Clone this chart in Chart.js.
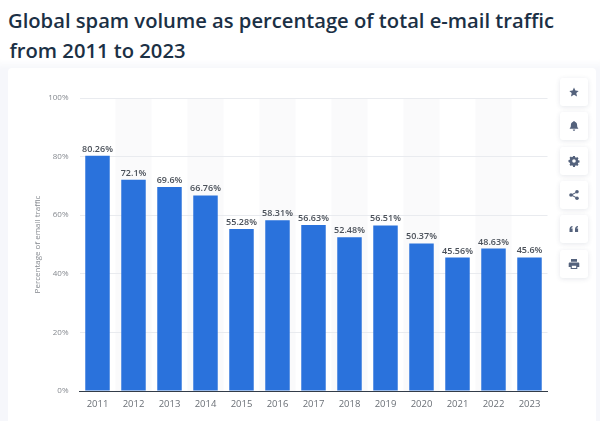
<!DOCTYPE html>
<html>
<head>
<meta charset="utf-8">
<script src="https://cdn.jsdelivr.net/npm/chart.js@4"></script>
<style>
  html, body { margin: 0; padding: 0; background: #fff; overflow: hidden; }
  #page { position: relative; width: 600px; height: 421px; overflow: hidden; }
  .title { position: absolute; font-family: "Open Sans", sans-serif; font-weight: 600; font-size: 20.2px; line-height: 30px; color: #1b3045; white-space: nowrap; }
  #side { position: absolute; left: -6px; top: 64px; width: 612px; height: 370px; background: #f6f7fb; filter: blur(3px); }
  #card { position: absolute; left: 8px; top: 68px; width: 588px; height: 353px; background: #fff; border-radius: 4px 4px 0 0; }
  canvas { position: absolute; left: 0; top: 0; }
  .btn { position: absolute; left: 560px; width: 28px; height: 28px; background: #fff; border-radius: 3px; box-shadow: 0 1px 5px rgba(40, 60, 90, 0.12); }
  .btn svg { position: absolute; left: 8px; top: 8px; width: 12px; height: 12px; fill: #54627c; }
</style>
</head>
<body>
<div id="page">
  <div class="title" style="left:8px;top:5px">Global spam volume as percentage of total e-mail traffic</div>
  <div class="title" style="left:9.500px;top:35px">from 2011 to 2023</div>
  <div id="side"></div>
  <div id="card"></div>
  <canvas id="barChart" width="600" height="421"></canvas>
  <div class="btn" style="top:78px"><svg viewBox="0 0 12 12"><path d="M6 1.500l1.400 3 3.300.4-2.400 2.200.7 3.300L6 8.800l-3 1.600.7-3.300-2.400-2.200 3.300-.4z"/></svg></div>
  <div class="btn" style="top:112px"><svg viewBox="0 0 12 12"><path d="M6 1c.4 0 .8.300.8.800 1.500.4 2.300 1.600 2.300 3.100 0 1.800.4 2.500 1.100 3.200v.7H1.800v-.7c.7-.7 1.100-1.400 1.100-3.200 0-1.500.8-2.700 2.300-3.100C5.200 1.300 5.600 1 6 1zM4.800 9.500h2.400c0 .7-.5 1.300-1.200 1.300s-1.200-.6-1.200-1.300z"/></svg></div>
  <div class="btn" style="top:147px"><svg viewBox="0 0 12 12"><path fill-rule="evenodd" d="M5.100 1h1.800l.3 1.300.9.4 1.100-.7 1.300 1.300-.7 1.100.4.900 1.300.3v1.800l-1.300.3-.4.9.7 1.100-1.300 1.300-1.100-.7-.9.4-.3 1.300H5.100l-.3-1.300-.9-.4-1.100.7-1.300-1.300.7-1.100-.4-.9L.5 6.900V5.100l1.300-.3.4-.9-.7-1.100L2.800 1.500l1.100.7.9-.4zM6 4.200a1.800 1.800 0 1 0 0 3.600 1.800 1.800 0 0 0 0-3.600z"/></svg></div>
  <div class="btn" style="top:181px"><svg viewBox="0 0 12 12"><circle cx="9" cy="2.800" r="1.800"/><circle cx="3" cy="6" r="1.800"/><circle cx="9" cy="9.200" r="1.800"/><path d="M3 5.600l6-3.200.4.800-6 3.200zM3.400 5.600l6 3.200-.4.800-6-3.200z"/></svg></div>
  <div class="btn" style="top:215px"><svg viewBox="0 0 12 12"><path d="M1.500 9V6.300c0-1.800 1-2.900 3-3.200v1.200c-.8.200-1.300.6-1.300 1.300h1.400V9zM7 9V6.300c0-1.800 1-2.900 3-3.200v1.200c-.8.200-1.300.6-1.300 1.300h1.400V9z"/></svg></div>
  <div class="btn" style="top:250px"><svg viewBox="0 0 12 12"><path fill-rule="evenodd" d="M3 1h6v2.800H3zM1.800 4.500h8.400c.7 0 1.100.5 1.100 1.100v3.400H9.300v2H2.700v-2H.7V5.600c0-.6.4-1.100 1.100-1.100zM3.800 7.800v2.200h4.400V7.800z"/></svg></div>
</div>
<script>
var years = ['2011', '2012', '2013', '2014', '2015', '2016', '2017', '2018', '2019', '2020', '2021', '2022', '2023'];
var spamShare = [80.26, 72.1, 69.6, 66.76, 55.28, 58.31, 56.63, 52.48, 56.51, 50.37, 45.56, 48.63, 45.6];
var yTicks = [0, 20, 40, 60, 80, 100];

// grey band behind every second year
var bandsPlugin = {
  id: 'bands',
  beforeDraw: function (chart) {
    var ctx = chart.ctx;
    var area = chart.chartArea;
    var x = chart.scales.x;
    var step = x.getPixelForValue(1) - x.getPixelForValue(0);
    ctx.save();
    ctx.fillStyle = '#fafafb';
    for (var i = 1; i < years.length; i += 2) {
      ctx.fillRect(x.getPixelForValue(i) - step / 2, area.top, step, area.bottom - area.top);
    }
    ctx.restore();
  }
};

var valueLabelPlugin = {
  id: 'valueLabels',
  afterDatasetsDraw: function (chart) {
    var ctx = chart.ctx;
    var bars = chart.getDatasetMeta(0).data;
    ctx.save();
    ctx.font = '600 9px "Open Sans"';
    ctx.fillStyle = '#4a5059';
    ctx.textAlign = 'center';
    ctx.textBaseline = 'bottom';
    for (var i = 0; i < bars.length; i++) {
      ctx.fillText(spamShare[i] + '%', bars[i].x, bars[i].y - 2);
    }
    ctx.restore();
  }
};

new Chart(document.getElementById('barChart').getContext('2d'), {
  type: 'bar',
  data: {
    labels: years,
    datasets: [{
      data: spamShare,
      backgroundColor: '#2a72dc',
      categoryPercentage: 1,
      barPercentage: 0.68
    }]
  },
  plugins: [bandsPlugin, valueLabelPlugin],
  options: {
    responsive: false,
    animation: false,
    devicePixelRatio: 1,
    layout: { padding: { left: 30, top: 98, right: 52.5, bottom: 0 } },
    plugins: {
      legend: { display: false },
      title: { display: false },
      tooltip: { enabled: false }
    },
    scales: {
      x: {
        afterFit: function (scale) { scale.height = 30; },
        grid: { display: false },
        border: { color: '#333c48', width: 1 },
        ticks: { color: '#6a6f76', font: { family: 'Open Sans', size: 9.5 }, padding: 0, maxRotation: 0 }
      },
      y: {
        min: 0,
        max: 100,
        afterFit: function (scale) { scale.width = 49.5; },
        afterBuildTicks: function (scale) {
          scale.ticks = yTicks.map(function (v) { return { value: v }; });
        },
        grid: {
          color: function (c) { return c.tick && c.tick.value === 0 ? 'transparent' : '#e9ebef'; },
          drawTicks: false
        },
        border: { display: false },
        title: {
          display: true,
          text: 'Percentage of email traffic',
          color: '#85898f',
          font: { family: 'Open Sans', size: 8 },
          padding: { top: 3, bottom: 0 }
        },
        ticks: {
          color: '#85898f',
          font: { family: 'Open Sans', size: 8 },
          padding: 11,
          callback: function (v) { return v + '%'; }
        }
      }
    }
  }
});
</script>
</body>
</html>
